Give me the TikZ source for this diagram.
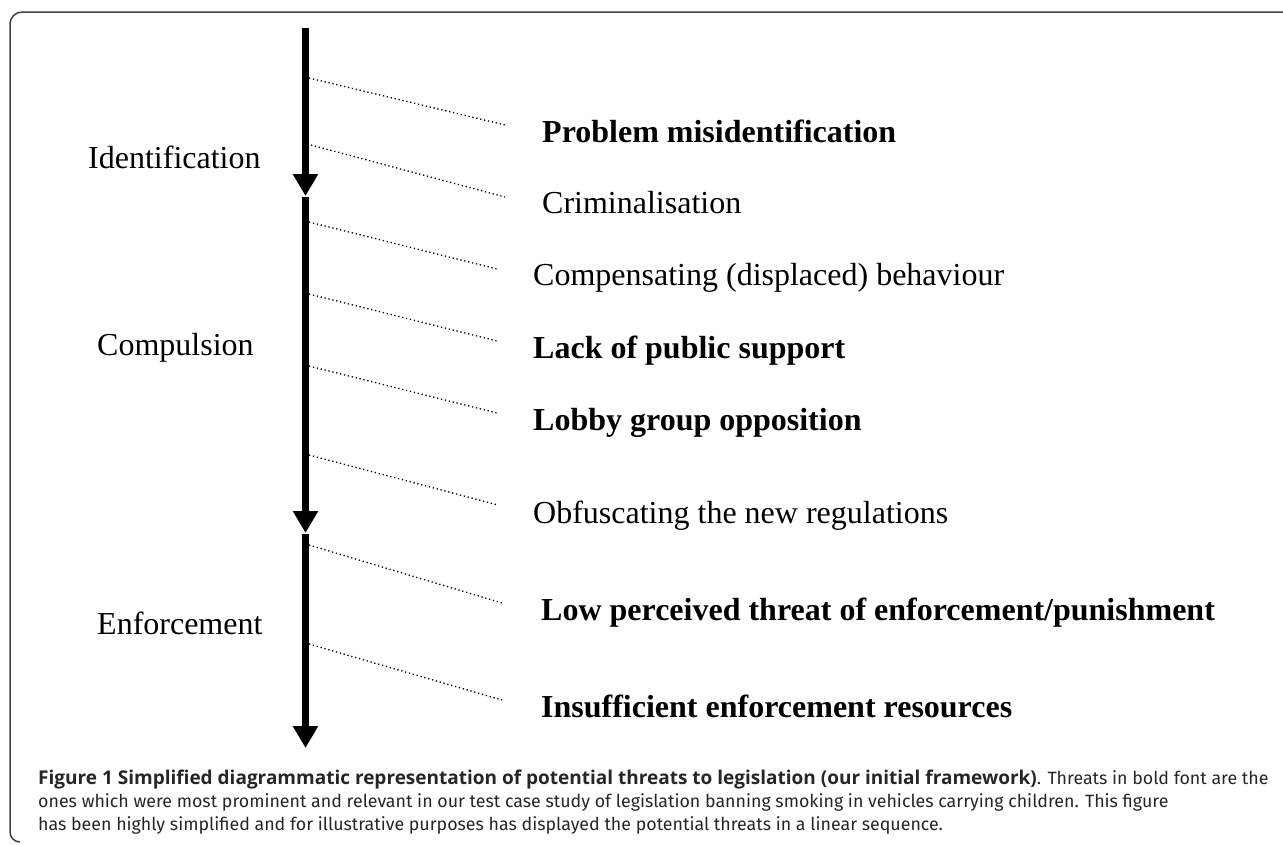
\documentclass[tikz,border=0pt]{standalone}
\usepackage{fontspec}
\setmainfont{Liberation Serif}
\newfontfamily\capfont{Fira Sans}
\newfontfamily\capbold{Open Sans}
\usetikzlibrary{arrows.meta}

\tikzset{
  stage/.style={anchor=base west, inner sep=0pt, font=\fontsize{32}{38}\selectfont},
  threat/.style={anchor=base west, inner sep=0pt, font=\fontsize{32}{38}\selectfont},
  major/.style={anchor=base west, inner sep=0pt, font=\fontsize{32}{38}\selectfont\bfseries},
  flow/.style={line width=7.5pt, -{Triangle[width=24pt,length=22pt]}},
  link/.style={line width=1.3pt, dash pattern=on 1.3pt off 2.7pt},
  capline/.style={anchor=base west, inner sep=0pt, font=\capfont\fontsize{17.8}{23}\selectfont, text=black!85}
}

\begin{document}
\begin{tikzpicture}[x=1pt, y=-1pt]
    \useasboundingbox (0,0) rectangle (1283,844);
    \draw[line width=1.5pt, black!75] (1283,12) -- (22,12) arc (270:180:12) -- (10,832) arc (180:90:10);

    % stages along the main line
    \coordinate (s0) at (305.5,28);
    \coordinate (s1) at (305.5,196);
    \coordinate (s2) at (305.5,197);
    \coordinate (s3) at (305.5,533);
    \coordinate (s4) at (305.5,534);
    \coordinate (s5) at (305.5,748);
    \draw[flow] (s0) -- (s1);
    \draw[flow] (s2) -- (s3);
    \draw[flow] (s4) -- (s5);

    \node[stage] (ident) at (88,168) {Identification};
    \node[stage] (compul) at (97,355) {Compulsion};
    \node[stage] (enforce) at (97,634) {Enforcement};

    % threats
    \node[major] (t1) at (542,142) {Problem misidentification};
    \node[threat] (t2) at (542,213) {Criminalisation};
    \node[threat] (t3) at (533,285) {Compensating (displaced) behaviour};
    \node[major] (t4) at (533,358) {Lack of public support};
    \node[major] (t5) at (533,430) {Lobby group opposition};
    \node[threat] (t6) at (533,523) {Obfuscating the new regulations};
    \node[major] (t7) at (541,620) {Low perceived threat of enforcement/punishment};
    \node[major] (t8) at (541,717) {Insufficient enforcement resources};

    \coordinate (a1) at (309,78);  \coordinate (b1) at (505,125);
    \coordinate (a2) at (311,145); \coordinate (b2) at (505,197);
    \coordinate (a3) at (309,222); \coordinate (b3) at (497,269);
    \coordinate (a4) at (309,294); \coordinate (b4) at (497,341);
    \coordinate (a5) at (309,366); \coordinate (b5) at (497,413);
    \coordinate (a6) at (309,455); \coordinate (b6) at (498,505);
    \coordinate (a7) at (309,545); \coordinate (b7) at (502,603);
    \coordinate (a8) at (309,644); \coordinate (b8) at (502,700);
    \foreach \i in {1,...,8}
        \draw[link] (a\i) -- (b\i);

    % caption
    \node[capline] (cap1) at (38,784) {{\capbold\bfseries\fontsize{19}{23}\selectfont Figure 1 Simplified diagrammatic representation of potential threats to legislation (our initial framework)}. Threats in bold font are the};
    \node[capline] (cap2) at (38,807) {ones which were most prominent and relevant in our test case study of legislation banning smoking in vehicles carrying children. This figure};
    \node[capline] (cap3) at (38,830) {has been highly simplified and for illustrative purposes has displayed the potential threats in a linear sequence.};
\end{tikzpicture}
\end{document}
